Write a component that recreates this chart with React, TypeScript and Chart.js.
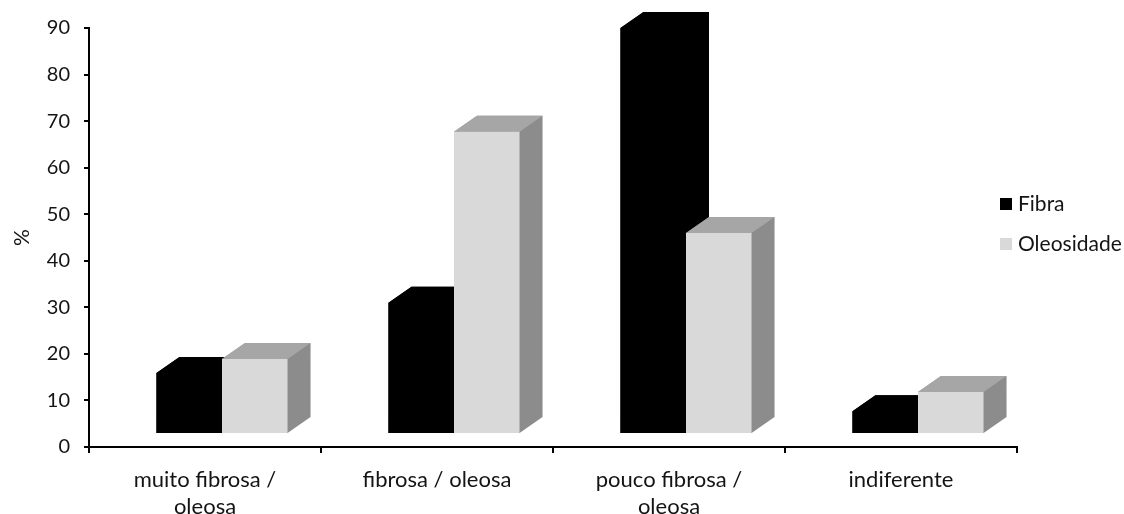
import React, { useEffect, useRef } from "react";
import { Chart, registerables } from "chart.js";

Chart.register(...registerables);

// Categories (multi-line labels as arrays)
const categories: (string | string[])[] = [
  ["muito fibrosa /", "oleosa"],
  "fibrosa / oleosa",
  ["pouco fibrosa /", "oleosa"],
  "indiferente",
];

// Percentages per category
const fibra = [13.1, 28.2, 87.2, 4.9];
const oleosidade = [16.1, 64.9, 43.2, 9.0];
const seriesNames = ["Fibra", "Oleosidade"];

// Value axis
const yMin = 0;
const yMax = 90;
const yStep = 10;
const yTitle = "%";

const FONT = "Lato, 'Open Sans', sans-serif";
const TEXT = "#141414";

// 3D extrusion: bars stand back from the axis plane, then extend in depth
const FLOOR = { dx: 17, dy: -13 };
const DEPTH = { dx: 23, dy: -16 };

const faces = [
  { front: "#000000", top: "#000000", side: "#000000", key: "#000000" },
  { front: "#d9d9d9", top: "#a6a6a6", side: "#8c8c8c", key: "#d9d9d9" },
];

function fillPoly(ctx: CanvasRenderingContext2D, pts: number[][], color: string) {
  ctx.beginPath();
  ctx.moveTo(pts[0][0], pts[0][1]);
  for (let i = 1; i < pts.length; i++) ctx.lineTo(pts[i][0], pts[i][1]);
  ctx.closePath();
  ctx.fillStyle = color;
  ctx.fill();
}

const bars3d = {
  id: "bars3d",
  afterDatasetsDraw(chart: any) {
    const ctx: CanvasRenderingContext2D = chart.ctx;
    ctx.save();
    chart.data.datasets.forEach((_ds: any, di: number) => {
      const meta = chart.getDatasetMeta(di);
      const f = faces[di];
      meta.data.forEach((el: any) => {
        const { x, y, base, width } = el.getProps(["x", "y", "base", "width"], true);
        const L = x - width / 2 + FLOOR.dx;
        const R = x + width / 2 + FLOOR.dx;
        const T = y + FLOOR.dy;
        const B = base + FLOOR.dy;
        // silhouette first (avoids seams), then the faces
        fillPoly(
          ctx,
          [
            [L, B],
            [L, T],
            [L + DEPTH.dx, T + DEPTH.dy],
            [R + DEPTH.dx, T + DEPTH.dy],
            [R + DEPTH.dx, B + DEPTH.dy],
            [R, B],
          ],
          f.side
        );
        fillPoly(
          ctx,
          [
            [L, T],
            [L + DEPTH.dx, T + DEPTH.dy],
            [R + DEPTH.dx, T + DEPTH.dy],
            [R, T],
          ],
          f.top
        );
        fillPoly(
          ctx,
          [
            [L, T],
            [R, T],
            [R, B],
            [L, B],
          ],
          f.front
        );
      });
    });
    ctx.restore();
  },
};

const sideLegend = {
  id: "sideLegend",
  afterDraw(chart: any) {
    const ctx: CanvasRenderingContext2D = chart.ctx;
    ctx.save();
    const x0 = 1000;
    const rows = [204, 244];
    const box = 12;
    ctx.font = `21px ${FONT}`;
    ctx.textBaseline = "middle";
    ctx.textAlign = "left";
    chart.data.datasets.forEach((ds: any, i: number) => {
      const cy = rows[i];
      ctx.fillStyle = faces[i].key;
      ctx.fillRect(x0, cy - box / 2, box, box);
      ctx.fillStyle = TEXT;
      ctx.fillText(ds.label, x0 + 18, cy);
    });
    ctx.restore();
  },
};

export default function App() {
  const canvasRef = useRef<HTMLCanvasElement | null>(null);

  useEffect(() => {
    if (!canvasRef.current) return;
    const chart = new Chart(canvasRef.current, {
      type: "bar",
      data: {
        labels: categories,
        datasets: [
          { label: seriesNames[0], data: fibra, backgroundColor: "rgba(0,0,0,0)" },
          { label: seriesNames[1], data: oleosidade, backgroundColor: "rgba(0,0,0,0)" },
        ],
      },
      options: {
        responsive: false,
        animation: false,
        events: [],
        layout: { padding: { top: 28, right: 107, bottom: 0, left: 0 } },
        datasets: {
          bar: { categoryPercentage: 0.565, barPercentage: 1 },
        },
        plugins: {
          legend: { display: false },
          tooltip: { enabled: false },
          title: { display: false },
        },
        scales: {
          x: {
            afterFit: (s: any) => {
              s.height = 67;
            },
            border: { display: true, color: "#000", width: 2 },
            grid: {
              display: true,
              drawOnChartArea: false,
              drawTicks: true,
              tickLength: 6,
              color: "#000",
              lineWidth: 2,
              offset: true,
            },
            ticks: {
              color: TEXT,
              padding: 13,
              maxRotation: 0,
              autoSkip: false,
              font: { family: FONT, size: 22, lineHeight: 1.25 },
            },
          },
          y: {
            min: yMin,
            max: yMax,
            afterFit: (s: any) => {
              s.width = 89;
            },
            border: { display: true, color: "#000", width: 2 },
            grid: {
              display: true,
              drawOnChartArea: false,
              drawTicks: true,
              tickLength: 5,
              color: "#000",
              lineWidth: 2,
            },
            ticks: {
              stepSize: yStep,
              color: TEXT,
              padding: 14,
              font: { family: FONT, size: 20 },
            },
            title: {
              display: true,
              text: yTitle,
              color: TEXT,
              font: { family: FONT, size: 21 },
              padding: { top: 10, bottom: 0 },
            },
          },
        },
      },
      plugins: [bars3d, sideLegend],
    } as any);
    return () => chart.destroy();
  }, []);

  return (
    <div style={{ position: "absolute", left: 0, top: 0, width: 1124, height: 514, background: "#fff" }}>
      <canvas ref={canvasRef} width={1124} height={514} style={{ display: "block" }} />
    </div>
  );
}
